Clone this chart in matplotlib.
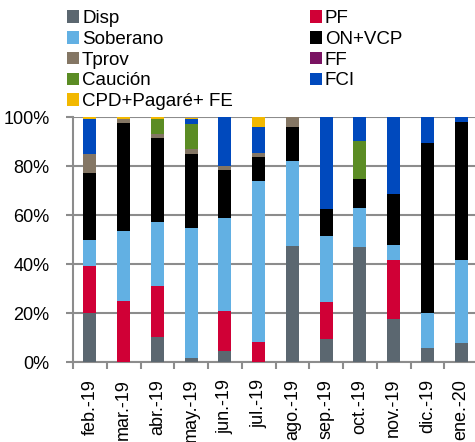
import matplotlib
matplotlib.use("Agg")
import matplotlib.pyplot as plt
from matplotlib.patches import Patch
import numpy as np

plt.rcParams['font.family'] = ['Liberation Sans', 'DejaVu Sans']

months = ['feb.-19', 'mar.-19', 'abr.-19', 'may.-19', 'jun.-19', 'jul.-19',
          'ago.-19', 'sep.-19', 'oct.-19', 'nov.-19', 'dic.-19', 'ene.-20']

# shares in % (stacked bottom -> top)
disp     = [20.3, 0.0, 10.2, 1.8, 4.6, 0.0, 47.6, 9.7, 47.2, 17.6, 6.0, 7.8]
pf       = [19.2, 25.0, 21.1, 0.0, 16.5, 8.3, 0.0, 15.1, 0.0, 24.2, 0.0, 0.0]
soberano = [10.4, 28.5, 26.1, 52.9, 37.7, 65.6, 34.6, 26.8, 15.7, 6.2, 14.3, 34.0]
on_vcp   = [27.5, 44.1, 34.0, 30.3, 19.7, 10.0, 14.0, 10.8, 11.8, 20.8, 69.4, 56.4]
tprov    = [7.5, 1.6, 1.8, 1.9, 1.6, 1.4, 3.8, 0.0, 0.0, 0.0, 0.0, 0.0]
ff       = [0.3, 0.0, 0.0, 0.0, 0.0, 0.0, 0.0, 0.0, 0.0, 0.0, 0.0, 0.0]
caucion  = [0.0, 0.0, 6.1, 10.3, 0.0, 0.0, 0.0, 0.0, 15.8, 0.0, 0.0, 0.0]
fci      = [14.3, 0.0, 0.0, 2.0, 19.9, 10.6, 0.0, 37.6, 9.5, 31.2, 10.3, 1.8]
cpd      = [0.5, 0.8, 0.7, 0.7, 0.0, 4.1, 0.0, 0.0, 0.0, 0.0, 0.0, 0.0]

series = [
    ('Disp', disp, '#5B6770'),
    ('PF', pf, '#D00036'),
    ('Soberano', soberano, '#62B0E3'),
    ('ON+VCP', on_vcp, '#000000'),
    ('Tprov', tprov, '#847664'),
    ('FF', ff, '#7A1362'),
    ('Caución', caucion, '#5B8C24'),
    ('FCI', fci, '#0049BD'),
    ('CPD+Pagaré+ FE', cpd, '#F2B800'),
]

fig = plt.figure(figsize=(4.75, 4.42), dpi=100)
ax = fig.add_axes([73 / 475, 1 - 362.3 / 442, 405 / 475, 245 / 442])

x = np.arange(len(months))
bottom = np.zeros(len(months))
handles = {}
for name, vals, color in series:
    vals = np.array(vals)
    ax.bar(x, vals, 0.39, bottom=bottom, color=color, zorder=3)
    bottom += vals
    handles[name] = Patch(facecolor=color)

ax.set_xlim(-0.5, len(months) - 0.5)
ax.set_ylim(0, 100)
ax.set_yticks(np.arange(0, 101, 20))
ax.set_yticklabels([f'{v}%' for v in range(0, 101, 20)])
ax.yaxis.grid(True, color='#8C8C8C', lw=1.5, zorder=0)

ax.set_xticks(x)
ax.set_xticklabels(months, rotation=90)
ax.set_xticks(np.arange(-0.5, len(months)), minor=True)
ax.tick_params(axis='x', which='major', length=0, pad=12, labelsize=13)
ax.tick_params(axis='x', which='minor', length=5, width=1.5, color='#8C8C8C')
ax.tick_params(axis='y', length=5, width=1.5, color='#8C8C8C', labelsize=13, pad=12)

for s in ['top', 'right']:
    ax.spines[s].set_visible(False)
for s in ['left', 'bottom']:
    ax.spines[s].set_color('#8C8C8C')
    ax.spines[s].set_linewidth(1.5)

order = ['Disp', 'Soberano', 'Tprov', 'Caución', 'CPD+Pagaré+ FE',
         'PF', 'ON+VCP', 'FF', 'FCI']
fig.legend([handles[n] for n in order], order, ncol=2, frameon=False,
           loc='upper left', bbox_to_anchor=(54 / 475, 1.0 + 3 / 442),
           fontsize=13.5, handlelength=0.65, handleheight=0.65,
           handletextpad=0.15, columnspacing=4.1, labelspacing=0.2,
           borderpad=0.2)

fig.savefig('out.png', dpi=100)
